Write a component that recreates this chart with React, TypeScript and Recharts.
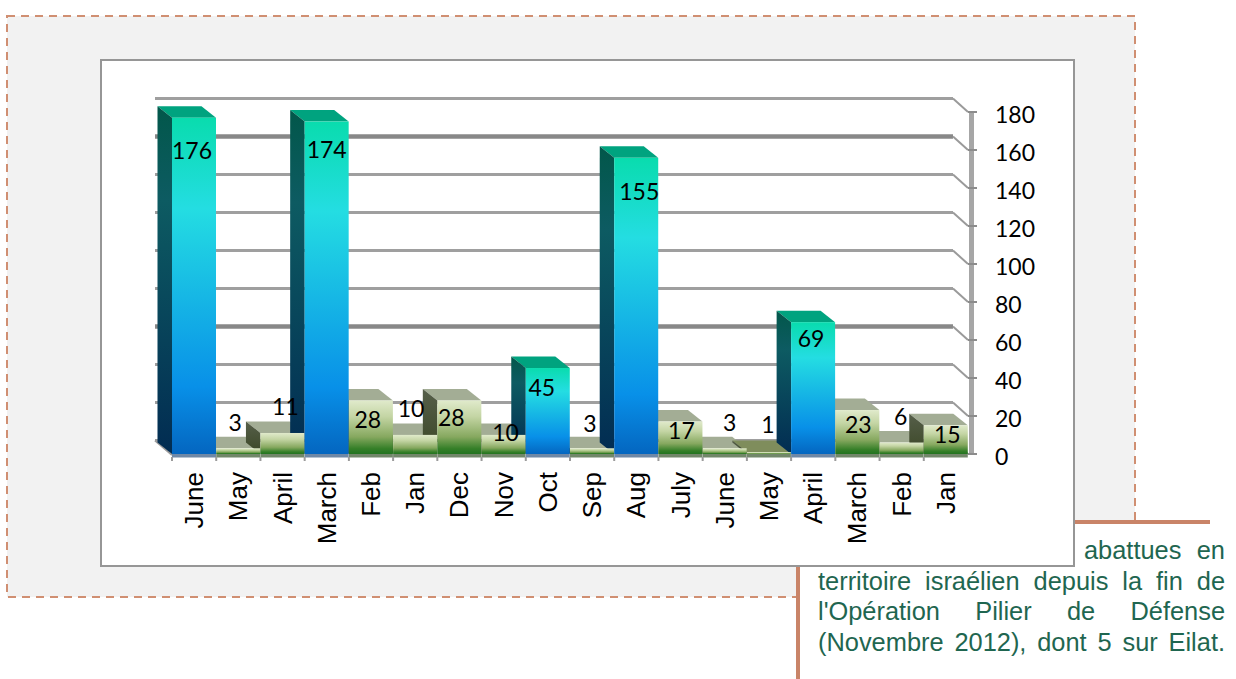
import React from "react";
import { BarChart, Bar, XAxis, YAxis, CartesianGrid, LabelList } from "recharts";

const months = ["June","May","April","March","Feb","Jan","Dec","Nov","Oct","Sep","Aug","July","June","May","April","March","Feb","Jan"];
const launches = [176,3,11,174,28,10,28,10,45,3,155,17,3,1,69,23,6,15];
const axisTicks = [0,20,40,60,80,100,120,140,160,180];
const heavyGridValues = [160,60];
// label offsets relative to the centre of each bar's top edge
const labelNudgeX = [-2,-3,3,0,-3,-4,-8,2,-6,-2,3,1,5,-1,-2,1,-1,1.5];
const labelNudgeY = [32,-26,-27,27,18,-27,16,-3,19,-25,33,8,-26,-28,16,14,-27,9];

const rows = months.map((month, i) => ({ month, launches: launches[i] }));

const DEPTH_X = 14.5;
const DEPTH_Y = 11.5;
const WALL_X = 17;
const WALL_Y = 13.5;
const TALL = 40;
const BAND = 796 / months.length;

const RearShape = (p: any) => {
  const { x, y, width: w, height: h, value } = p;
  const v = Array.isArray(value) ? value[1] : value;
  const tall = v >= TALL;
  return (
    <g>
      <polygon
        points={`${x},${y} ${x + w},${y} ${x + w - DEPTH_X},${y - DEPTH_Y} ${x - DEPTH_X},${y - DEPTH_Y}`}
        fill={tall ? "#00a37f" : v < 2 ? "#7f8d5c" : "#a3ad95"}
      />
      <polygon
        points={`${x},${y} ${x - DEPTH_X},${y - DEPTH_Y} ${x - DEPTH_X},${y + h - DEPTH_Y} ${x},${y + h}`}
        fill={tall ? "url(#sideBlue)" : "url(#sideGreen)"}
      />
    </g>
  );
};

const FrontShape = (p: any) => {
  const { x, y, width: w, height: h, value } = p;
  const v = Array.isArray(value) ? value[1] : value;
  const tall = v >= TALL;
  return (
    <g>
      <rect x={x} y={y} width={w} height={h} fill={tall ? "url(#frontBlue)" : "url(#frontGreen)"} />
      <rect x={x} y={y + h} width={w} height={3.5} fill={tall ? "#6f88a6" : "#72876a"} />
    </g>
  );
};

const BarValue = (p: any) => {
  const { x, y, width: w, value, index } = p;
  return (
    <text
      x={x + w / 2 + labelNudgeX[index]}
      y={y + labelNudgeY[index]}
      textAnchor="middle"
      dominantBaseline="central"
      fontFamily="Lato"
      fontSize={23}
      fill="#000"
    >
      {value}
    </text>
  );
};

const XTick = (p: any) => {
  const { x, y, payload } = p;
  return (
    <g>
      <line x1={x - BAND / 2} x2={x - BAND / 2} y1={y} y2={y + 4} stroke="#9b9b9b" strokeWidth={2} />
      <text
        transform={`translate(${x},${y + 15}) rotate(-90)`}
        textAnchor="end"
        dominantBaseline="central"
        fontFamily="Liberation Sans"
        fontSize={26}
        fill="#000"
      >
        {payload.value}
      </text>
    </g>
  );
};

const YTick = (p: any) => {
  const { x, y, payload } = p;
  return (
    <g>
      <line x1={x} x2={x + 9} y1={y} y2={y} stroke="#8c8c8c" strokeWidth={2} />
      <text x={x + 27} y={y + 1.5} textAnchor="start" dominantBaseline="central" fontFamily="Lato" fontSize={23} fill="#000">
        {payload.value}
      </text>
    </g>
  );
};

const WallLine = (p: any) => {
  const { x1, x2, y1, index } = p;
  const value = axisTicks[index];
  const heavy = heavyGridValues.includes(value);
  const wallY = y1 - WALL_Y;
  return (
    <g key={`wall-${index}`}>
      <line
        x1={x1 - WALL_X}
        x2={x2 - 15}
        y1={wallY}
        y2={wallY}
        stroke={heavy ? "#888888" : "#9f9f9f"}
        strokeWidth={heavy ? 4.5 : 3}
      />
      <polyline
        points={`${x2 - 15},${wallY} ${x2},${y1}`}
        fill="none"
        stroke="#9a9a9a"
        strokeWidth={2}
      />
      {value === 0 && (
        <line x1={x1 - WALL_X} x2={x1} y1={wallY} y2={y1 + 1} stroke="#9b9b9b" strokeWidth={2} />
      )}
    </g>
  );
};

export default function App() {
  return (
    <div style={{ position: "absolute", left: 0, top: 0, width: 1236, height: 679, overflow: "hidden", background: "#fff" }}>
      <svg width={1236} height={679} style={{ position: "absolute", left: 0, top: 0 }}>
        <rect x={7} y={16} width={1128} height={581} fill="#f2f2f2" stroke="#d08f72" strokeWidth={2} strokeDasharray="8 6" />
      </svg>
      <div
        style={{
          position: "absolute",
          left: 796,
          top: 520,
          width: 410,
          height: 159,
          background: "#fff",
          borderLeft: "4px solid #c98468",
          borderTop: "4px solid #c98468",
        }}
      />
      <div
        style={{
          position: "absolute",
          left: 818,
          top: 535,
          width: 407,
          fontFamily: "Liberation Sans",
          fontSize: 25.4,
          lineHeight: "30.7px",
          color: "#1f6650",
        }}
      >
        {["abattues en", "territoire israélien depuis la fin de", "l'Opération Pilier de Défense", "(Novembre 2012), dont 5 sur Eilat."].map((line, i) => (
          <div
            key={i}
            style={{
              textAlign: "justify",
              textAlignLast: "justify",
              marginLeft: i === 0 ? 266 : 0,
            }}
          >
            {line}
          </div>
        ))}
      </div>
      <div
        style={{
          position: "absolute",
          left: 100,
          top: 59,
          width: 971,
          height: 504,
          background: "#fff",
          border: "2px solid #969696",
        }}
      />
      <div style={{ position: "absolute", left: 0, top: 0 }}>
        <BarChart
          width={1236}
          height={679}
          data={rows}
          margin={{ left: 172, right: 188, top: 112, bottom: 165 }}
          barCategoryGap={0}
          barGap={0}
        >
          <defs>
            <linearGradient id="frontBlue" x1="0" y1="0" x2="0" y2="1">
              <stop offset="0" stopColor="#09dcae" />
              <stop offset="0.27" stopColor="#24dde2" />
              <stop offset="0.8" stopColor="#0890e8" />
              <stop offset="1" stopColor="#0466c0" />
            </linearGradient>
            <linearGradient id="sideBlue" x1="0" y1="0" x2="0" y2="1">
              <stop offset="0" stopColor="#02574a" />
              <stop offset="0.27" stopColor="#0d5b62" />
              <stop offset="1" stopColor="#022c52" />
            </linearGradient>
            <linearGradient id="frontGreen" x1="0" y1="0" x2="0" y2="1">
              <stop offset="0" stopColor="#e0eacb" />
              <stop offset="0.3" stopColor="#c4d5a4" />
              <stop offset="0.68" stopColor="#86a85f" />
              <stop offset="0.9" stopColor="#357f28" />
              <stop offset="1" stopColor="#227420" />
            </linearGradient>
            <linearGradient id="sideGreen" x1="0" y1="0" x2="0" y2="1">
              <stop offset="0" stopColor="#565f4a" />
              <stop offset="1" stopColor="#3b4726" />
            </linearGradient>
          </defs>
          <XAxis xAxisId="rear" dataKey="month" height={60} axisLine={false} tickLine={false} tickMargin={0} tickSize={3} interval={0} tick={<XTick />} />
          <XAxis xAxisId="front" dataKey="month" hide height={0} />
          <XAxis xAxisId="ghost" dataKey="month" hide height={0} />
          <YAxis
            yAxisId="scale"
            orientation="right"
            width={80}
            domain={[0, 180]}
            ticks={axisTicks}
            interval={0}
            tickSize={0}
            tickMargin={0}
            tickLine={false}
            axisLine={{ stroke: "#a6a6a6", strokeWidth: 5, transform: "translate(3.5,0)" }}
            tick={<YTick />}
          />
          <YAxis yAxisId="bars" hide domain={[0, 179]} />
          <CartesianGrid xAxisId="rear" yAxisId="scale" vertical={false} horizontal={WallLine} />
          <Bar xAxisId="ghost" yAxisId="scale" dataKey="launches" isAnimationActive={false} shape={() => null} />
          <Bar xAxisId="rear" yAxisId="bars" dataKey="launches" isAnimationActive={false} shape={<RearShape />} />
          <Bar xAxisId="front" yAxisId="bars" dataKey="launches" isAnimationActive={false} shape={<FrontShape />}>
            <LabelList dataKey="launches" content={<BarValue />} />
          </Bar>
        </BarChart>
      </div>
    </div>
  );
}
